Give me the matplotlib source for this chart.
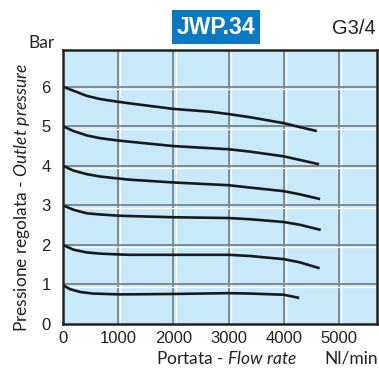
import numpy as np
import matplotlib.pyplot as plt
import matplotlib.transforms as mtransforms

plt.rcParams['font.family'] = 'Liberation Sans'
plt.rcParams['mathtext.fontset'] = 'custom'
plt.rcParams['mathtext.rm'] = 'Lato'
plt.rcParams['mathtext.it'] = 'Lato:italic'

# flow (Nl/min) and outlet pressure (bar)
flow_6 = [0, 190, 430, 670, 1000, 1210, 2000, 2660, 3000, 3390, 4000, 4290, 4600]
pres_6 = [6.0, 5.90, 5.77, 5.69, 5.62, 5.58, 5.44, 5.37, 5.31, 5.23, 5.08, 4.98, 4.88]
flow_5 = [0, 190, 430, 670, 1000, 1210, 2000, 3000, 3390, 4000, 4290, 4640]
pres_5 = [5.0, 4.88, 4.77, 4.70, 4.64, 4.61, 4.50, 4.42, 4.36, 4.24, 4.15, 4.04]
flow_4 = [0, 190, 430, 670, 1000, 1210, 2000, 3000, 3390, 4000, 4290, 4660]
pres_4 = [4.0, 3.88, 3.79, 3.73, 3.68, 3.65, 3.58, 3.51, 3.45, 3.36, 3.28, 3.16]
flow_3 = [0, 190, 430, 670, 1000, 1210, 2000, 3000, 3390, 4000, 4290, 4670]
pres_3 = [3.0, 2.89, 2.80, 2.77, 2.74, 2.73, 2.70, 2.68, 2.65, 2.58, 2.51, 2.38]
flow_2 = [0, 190, 430, 670, 1000, 1210, 2000, 3000, 3390, 4000, 4290, 4650]
pres_2 = [2.0, 1.88, 1.81, 1.78, 1.76, 1.75, 1.75, 1.75, 1.72, 1.64, 1.56, 1.41]
flow_1 = [0, 130, 310, 540, 1000, 1210, 2000, 3000, 3390, 4000, 4280]
pres_1 = [0.98, 0.88, 0.81, 0.77, 0.75, 0.75, 0.76, 0.78, 0.77, 0.74, 0.66]

x_ticks = [0, 1000, 2000, 3000, 4000, 5000]
y_ticks = [0, 1, 2, 3, 4, 5, 6]

fig = plt.figure(figsize=(3.79, 3.70), dpi=100)
ax = fig.add_axes([63 / 379, 46 / 370, 314 / 379, 274 / 370])
ax.set_facecolor('#c8e9f9')
ax.set_xlim(0, 5690)
ax.set_ylim(0, 6.93)

# grid: grey line with a thin white highlight next to it
off_x = mtransforms.ScaledTranslation(1.6 / 72, 0, fig.dpi_scale_trans)
off_y = mtransforms.ScaledTranslation(0, -1.6 / 72, fig.dpi_scale_trans)
for x in x_ticks[1:]:
    ax.plot([x, x], [0, 1], color='white', lw=0.9, zorder=1,
            transform=ax.get_xaxis_transform() + off_x)
    ax.axvline(x, color='#7d8a92', lw=1.4, zorder=1)
for y in y_ticks[1:]:
    ax.plot([0, 1], [y, y], color='white', lw=0.9, zorder=1,
            transform=ax.get_yaxis_transform() + off_y)
    ax.axhline(y, color='#7d8a92', lw=1.4, zorder=1)

for fx, py in [(flow_6, pres_6), (flow_5, pres_5), (flow_4, pres_4),
               (flow_3, pres_3), (flow_2, pres_2), (flow_1, pres_1)]:
    ax.plot(fx, py, color='#1a1a1a', lw=1.9, solid_capstyle='butt',
            solid_joinstyle='round', zorder=3)

for s in ax.spines.values():
    s.set_color('#222222')
    s.set_linewidth(1.8)
    s.set_zorder(4)

ax.set_xticks(x_ticks)
ax.set_yticks(y_ticks)
ax.tick_params(length=0, labelsize=12, colors='#222222')
ax.tick_params(axis='x', pad=5)
ax.tick_params(axis='y', pad=9)

fig.text(42 / 379, 1 - 43 / 370, 'Bar', fontsize=12.5, family='Lato',
         ha='center', va='center', color='#222222')
fig.text(216 / 379, 1 - 27 / 370, 'JWP.34', fontsize=16.5, family='Liberation Sans',
         weight='bold', color='white', ha='center', va='center',
         bbox=dict(boxstyle='square,pad=0.22', fc='#0a78c2', ec='none'))
fig.text(354 / 379, 1 - 28 / 370, 'G3/4', fontsize=14.5, family='Liberation Sans',
         ha='center', va='center', color='#222222')
fig.text(227 / 379, 1 - 359 / 370, r'Portata - $\mathit{Flow\ rate}$', fontsize=12.5,
         family='Lato', ha='center', va='center', color='#222222')
fig.text(351 / 379, 1 - 359 / 370, 'Nl/min', fontsize=12.5, family='Lato',
         ha='center', va='center', color='#222222')
fig.text(22 / 379, 1 - 197 / 370, r'Pressione regolata - $\mathit{Outlet\ pressure}$',
         fontsize=12.5, family='Lato', rotation=90, ha='center', va='center',
         color='#222222')

fig.savefig('out.png', dpi=100)
